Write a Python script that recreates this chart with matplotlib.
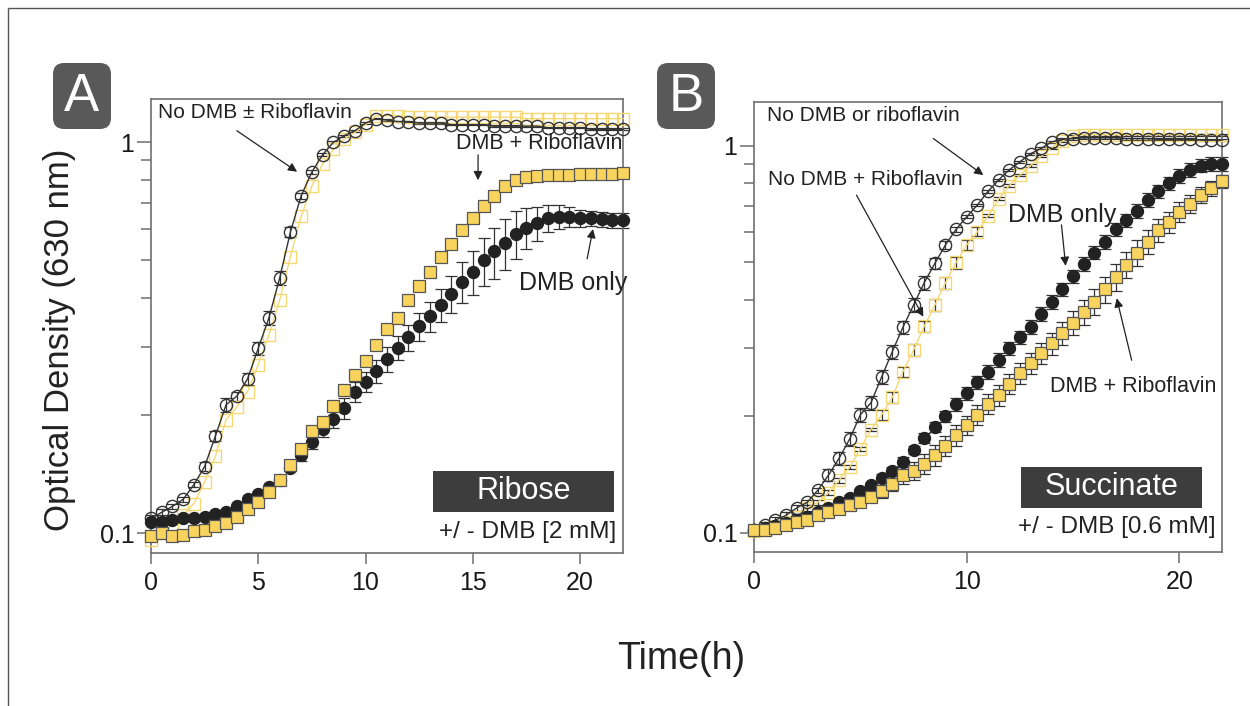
import numpy as np
import matplotlib
matplotlib.use("Agg")
import matplotlib.pyplot as plt
from matplotlib.patches import FancyBboxPatch, Rectangle
from matplotlib.transforms import IdentityTransform
from matplotlib.ticker import FixedLocator, FixedFormatter, NullFormatter

plt.rcParams['font.family'] = ['Liberation Sans', 'DejaVu Sans']

# sampling times (h), every 30 min
hours = np.arange(0, 22.5, 0.5)

# ---- panel A : ribose ----
a_no_dmb = [0.109, 0.113, 0.117, 0.122, 0.133, 0.148, 0.177, 0.213, 0.224, 0.248,
            0.297, 0.356, 0.45, 0.59, 0.73, 0.84, 0.93, 1.0, 1.04, 1.07,
            1.12, 1.15, 1.14, 1.13, 1.13, 1.12, 1.12, 1.12, 1.11, 1.11,
            1.11, 1.11, 1.10, 1.10, 1.10, 1.10, 1.10, 1.09, 1.09, 1.09,
            1.09, 1.08, 1.08, 1.08, 1.08]
a_no_dmb_err = [0.002, 0.002, 0.002, 0.002, 0.002, 0.004, 0.005, 0.009, 0.006, 0.009,
                0.012, 0.015, 0.018, 0.016, 0.012, 0.010, 0.008, 0.006, 0.005, 0.005,
                0.005, 0.005, 0.005, 0.005, 0.005, 0.005, 0.005, 0.005, 0.005, 0.005,
                0.005, 0.005, 0.005, 0.005, 0.005, 0.005, 0.005, 0.005, 0.005, 0.005,
                0.005, 0.005, 0.005, 0.005, 0.005]
a_no_dmb_rib = [0.096, 0.100, 0.105, 0.111, 0.119, 0.135, 0.157, 0.195, 0.21, 0.23,
                0.27, 0.322, 0.395, 0.51, 0.647, 0.773, 0.88, 0.96, 1.02, 1.06,
                1.11, 1.17, 1.17, 1.17, 1.16, 1.16, 1.16, 1.16, 1.16, 1.16,
                1.16, 1.16, 1.16, 1.16, 1.16, 1.15, 1.15, 1.15, 1.15, 1.15,
                1.15, 1.15, 1.15, 1.15, 1.15]
a_dmb_rib = [0.098, 0.100, 0.098, 0.099, 0.101, 0.102, 0.104, 0.106, 0.110, 0.115,
             0.120, 0.127, 0.137, 0.149, 0.164, 0.182, 0.192, 0.211, 0.233, 0.254,
             0.275, 0.303, 0.332, 0.355, 0.394, 0.428, 0.467, 0.51, 0.55, 0.597,
             0.64, 0.686, 0.73, 0.773, 0.80, 0.816, 0.82, 0.823, 0.825, 0.826,
             0.828, 0.83, 0.83, 0.832, 0.833]
a_dmb = [0.107, 0.107, 0.108, 0.109, 0.109, 0.110, 0.112, 0.113, 0.117, 0.122,
         0.126, 0.131, 0.137, 0.147, 0.158, 0.171, 0.185, 0.196, 0.209, 0.23,
         0.244, 0.26, 0.279, 0.298, 0.317, 0.338, 0.359, 0.384, 0.41, 0.44,
         0.467, 0.50, 0.526, 0.553, 0.584, 0.605, 0.622, 0.64, 0.645, 0.645,
         0.64, 0.64, 0.635, 0.632, 0.632]
a_dmb_err = [0.001, 0.001, 0.001, 0.001, 0.001, 0.001, 0.001, 0.001, 0.001, 0.001,
             0.001, 0.001, 0.002, 0.003, 0.005, 0.007, 0.009, 0.010, 0.013, 0.014,
             0.015, 0.018, 0.020, 0.021, 0.024, 0.027, 0.032, 0.038, 0.045, 0.053,
             0.061, 0.070, 0.079, 0.083, 0.082, 0.073, 0.062, 0.051, 0.045, 0.039,
             0.032, 0.029, 0.029, 0.028, 0.028]

# ---- panel B : succinate ----
b_no_dmb = [0.102, 0.105, 0.108, 0.111, 0.116, 0.120, 0.129, 0.141, 0.156, 0.175,
            0.202, 0.217, 0.253, 0.294, 0.34, 0.388, 0.443, 0.497, 0.555, 0.609,
            0.656, 0.704, 0.763, 0.817, 0.868, 0.91, 0.955, 0.986, 1.025, 1.04,
            1.045, 1.05, 1.05, 1.05, 1.05, 1.045, 1.045, 1.045, 1.04, 1.04,
            1.04, 1.04, 1.035, 1.035, 1.035]
b_no_dmb_err = [0.002, 0.002, 0.002, 0.002, 0.002, 0.002, 0.002, 0.005, 0.006, 0.007,
                0.008, 0.009, 0.010, 0.012, 0.014, 0.016, 0.018, 0.015, 0.012, 0.008,
                0.006, 0.006, 0.006, 0.006, 0.006, 0.006, 0.006, 0.006, 0.006, 0.006,
                0.006, 0.006, 0.006, 0.006, 0.006, 0.006, 0.006, 0.006, 0.006, 0.006,
                0.006, 0.006, 0.006, 0.006, 0.006]
b_no_dmb_rib = [0.101, 0.102, 0.104, 0.107, 0.110, 0.116, 0.120, 0.127, 0.137, 0.148,
                0.165, 0.185, 0.202, 0.224, 0.261, 0.297, 0.342, 0.388, 0.443, 0.50,
                0.555, 0.60, 0.66, 0.73, 0.79, 0.84, 0.89, 0.94, 0.99, 1.03,
                1.06, 1.07, 1.07, 1.07, 1.07, 1.07, 1.07, 1.07, 1.07, 1.07,
                1.07, 1.07, 1.07, 1.07, 1.07]
b_no_dmb_rib_err = [0.002, 0.002, 0.002, 0.002, 0.002, 0.002, 0.002, 0.002, 0.002, 0.002,
                    0.002, 0.002, 0.006, 0.007, 0.008, 0.010, 0.012, 0.014, 0.016, 0.018,
                    0.018, 0.016, 0.006, 0.006, 0.006, 0.006, 0.006, 0.006, 0.006, 0.006,
                    0.006, 0.006, 0.006, 0.006, 0.006, 0.006, 0.006, 0.006, 0.006, 0.006,
                    0.006, 0.006, 0.006, 0.006, 0.006]
b_dmb = [0.102, 0.103, 0.104, 0.106, 0.108, 0.110, 0.113, 0.116, 0.12, 0.123,
         0.128, 0.133, 0.139, 0.145, 0.153, 0.164, 0.176, 0.188, 0.2, 0.215,
         0.23, 0.245, 0.261, 0.28, 0.30, 0.32, 0.341, 0.368, 0.396, 0.426,
         0.46, 0.496, 0.53, 0.566, 0.609, 0.643, 0.68, 0.725, 0.763, 0.801,
         0.837, 0.868, 0.89, 0.9, 0.9]
b_dmb_err = [0.002, 0.002, 0.002, 0.002, 0.002, 0.002, 0.002, 0.002, 0.002, 0.002,
             0.002, 0.002, 0.003, 0.003, 0.004, 0.004, 0.005, 0.006, 0.007, 0.008,
             0.009, 0.010, 0.011, 0.012, 0.012, 0.013, 0.014, 0.015, 0.016, 0.017,
             0.018, 0.020, 0.021, 0.023, 0.024, 0.026, 0.027, 0.029, 0.031, 0.032,
             0.033, 0.035, 0.036, 0.036, 0.036]
b_dmb_rib = [0.102, 0.102, 0.103, 0.105, 0.107, 0.108, 0.111, 0.113, 0.115, 0.118,
             0.120, 0.124, 0.128, 0.134, 0.141, 0.145, 0.151, 0.159, 0.168, 0.179,
             0.19, 0.202, 0.216, 0.227, 0.243, 0.259, 0.275, 0.291, 0.309, 0.328,
             0.349, 0.373, 0.396, 0.426, 0.458, 0.493, 0.53, 0.566, 0.607, 0.636,
             0.675, 0.71, 0.748, 0.778, 0.81]
b_dmb_rib_err = [0.002, 0.002, 0.002, 0.002, 0.002, 0.002, 0.002, 0.002, 0.002, 0.002,
                 0.003, 0.004, 0.005, 0.006, 0.007, 0.008, 0.009, 0.010, 0.010, 0.011,
                 0.011, 0.012, 0.013, 0.014, 0.015, 0.016, 0.017, 0.018, 0.020, 0.022,
                 0.025, 0.028, 0.030, 0.033, 0.036, 0.038, 0.040, 0.041, 0.042, 0.040,
                 0.040, 0.038, 0.036, 0.035, 0.033]

YELLOW = '#F8D35E'
PALE_YELLOW = '#F6D873'
DARK = '#222222'
GRID_GREY = '#6e6e6e'
W, H = 1250, 706


def errbars(ax, y, err):
    ax.errorbar(hours, y, yerr=err, fmt='none', ecolor='#333333', elinewidth=0.9,
                capsize=4, capthick=0.9, zorder=2, clip_on=False)


def open_series(ax, y, edge, line, marker):
    ax.plot(hours, y, color=line, lw=1.0, zorder=3, clip_on=False)
    ax.plot(hours, y, ls='none', marker=marker, ms=8.8, mfc='none', mec=edge,
            mew=1.0, zorder=3, clip_on=False)


def style_axes(ax, xticks, ylim):
    ax.set_xlim(0, 22)
    ax.set_yscale('log')
    ax.set_ylim(*ylim)
    ax.yaxis.set_major_locator(FixedLocator([0.1, 1]))
    ax.yaxis.set_major_formatter(FixedFormatter(['0.1', '1']))
    ax.yaxis.set_minor_locator(FixedLocator([0.2, 0.3, 0.4, 0.5, 0.6, 0.7, 0.8, 0.9]))
    ax.yaxis.set_minor_formatter(NullFormatter())
    ax.set_xticks(xticks)
    ax.set_xticklabels([str(v) for v in xticks])
    for s in ax.spines.values():
        s.set_color(GRID_GREY)
        s.set_linewidth(1.2)
    ax.tick_params(axis='both', which='major', colors=GRID_GREY, labelcolor='#1a1a1a',
                   labelsize=18, width=1.1)
    ax.tick_params(axis='y', which='major', length=10, pad=2)
    ax.tick_params(axis='y', which='minor', length=7, width=1.1, colors=GRID_GREY)
    ax.tick_params(axis='x', which='major', length=8, pad=5)


def arrow(ax, xy, xytext):
    ax.annotate('', xy=xy, xycoords='data', xytext=xytext, textcoords='axes fraction',
                arrowprops=dict(arrowstyle='-|>', lw=0.9, color='#222222',
                                mutation_scale=13, shrinkA=0, shrinkB=0))


def tag_box(ax, x0, x1, y0, y1, label):
    ax.add_patch(Rectangle((x0, y0), x1 - x0, y1 - y0, transform=ax.transAxes,
                           facecolor='#3d3d3d', edgecolor='none', zorder=5, clip_on=False))
    ax.text((x0 + x1) / 2, (y0 + y1) / 2, label, transform=ax.transAxes, ha='center',
            va='center', color='white', fontsize=22, zorder=6)


fig = plt.figure(figsize=(12.5, 7.06), dpi=100)

axA = fig.add_axes([151 / W, 153 / H, 472 / W, 454 / H])
axB = fig.add_axes([754 / W, 154 / H, 468 / W, 450 / H])

# panel A
errbars(axA, a_no_dmb, a_no_dmb_err)
errbars(axA, a_dmb, a_dmb_err)
open_series(axA, a_no_dmb_rib, PALE_YELLOW, PALE_YELLOW, 's')
open_series(axA, a_no_dmb, '#333333', '#333333', 'o')
axA.plot(hours, a_dmb, ls='none', marker='o', ms=8.6, mfc=DARK, mec=DARK, zorder=4, clip_on=False)
axA.plot(hours, a_dmb_rib, ls='none', marker='s', ms=8.6, mfc=YELLOW, mec='#555555',
         mew=0.9, zorder=4, clip_on=False)
style_axes(axA, [0, 5, 10, 15, 20], (0.0889, 1.291))

axA.text(0.015, 0.971, 'No DMB \u00b1 Riboflavin', transform=axA.transAxes, ha='left',
         va='center', fontsize=15, color='#222222')
arrow(axA, (6.81, 0.841), (0.182, 0.93))
axA.text(0.998, 0.903, 'DMB + Riboflavin', transform=axA.transAxes, ha='right',
         va='center', fontsize=15.5, color='#222222')
arrow(axA, (15.24, 0.80), (0.693, 0.877))
axA.text(1.01, 0.595, 'DMB only', transform=axA.transAxes, ha='right',
         va='center', fontsize=18, color='#222222')
arrow(axA, (20.6, 0.60), (0.924, 0.648))
tag_box(axA, 0.597, 0.981, 0.090, 0.181, 'Ribose')
axA.text(0.985, 0.046, '+/ - DMB [2 mM]', transform=axA.transAxes, ha='right',
         va='center', fontsize=17.5, color='#222222')

# panel B
errbars(axB, b_no_dmb_rib, b_no_dmb_rib_err)
errbars(axB, b_no_dmb, b_no_dmb_err)
errbars(axB, b_dmb, b_dmb_err)
errbars(axB, b_dmb_rib, b_dmb_rib_err)
open_series(axB, b_no_dmb_rib, PALE_YELLOW, PALE_YELLOW, 's')
open_series(axB, b_no_dmb, '#333333', '#333333', 'o')
axB.plot(hours, b_dmb, ls='none', marker='o', ms=8.6, mfc=DARK, mec=DARK, zorder=4, clip_on=False)
axB.plot(hours, b_dmb_rib, ls='none', marker='s', ms=8.6, mfc=YELLOW, mec='#555555',
         mew=0.9, zorder=4, clip_on=False)
style_axes(axB, [0, 10, 20], (0.0893, 1.299))

axB.text(0.028, 0.969, 'No DMB or riboflavin', transform=axB.transAxes, ha='left',
         va='center', fontsize=15, color='#222222')
arrow(axB, (10.78, 0.841), (0.383, 0.919))
axB.text(0.029, 0.827, 'No DMB + Riboflavin', transform=axB.transAxes, ha='left',
         va='center', fontsize=15, color='#222222')
arrow(axB, (7.96, 0.362), (0.219, 0.793))
axB.text(0.543, 0.749, 'DMB only', transform=axB.transAxes, ha='left',
         va='center', fontsize=18, color='#222222')
arrow(axB, (14.65, 0.49), (0.657, 0.727))
axB.text(0.987, 0.367, 'DMB + Riboflavin', transform=axB.transAxes, ha='right',
         va='center', fontsize=15.5, color='#222222')
arrow(axB, (17.05, 0.404), (0.807, 0.426))
tag_box(axB, 0.571, 0.957, 0.098, 0.190, 'Succinate')
axB.text(0.987, 0.056, '+/ - DMB [0.6 mM]', transform=axB.transAxes, ha='right',
         va='center', fontsize=17.5, color='#222222')

# panel letters
for x0, cx, letter in [(53, 81.5, 'A'), (657, 686, 'B')]:
    fig.add_artist(FancyBboxPatch((x0, H - 129), 58, 66,
                                  boxstyle='round,pad=0,rounding_size=11',
                                  transform=IdentityTransform(),
                                  facecolor='#595959', edgecolor='none'))
    fig.text(cx / W, 1 - 97 / H, letter, ha='center', va='center', color='white',
             fontsize=38)

# shared axis titles
fig.text(60 / W, 1 - 340 / H, 'Optical Density (630 nm)', rotation=90, ha='center',
         va='center', fontsize=25, color='#222222')
fig.text(681 / W, 1 - 659 / H, 'Time(h)', ha='center', va='center', fontsize=27,
         color='#222222')

# thin frame round the figure
fig.add_artist(Rectangle((8, -10), 1400, H - 8 + 10, transform=IdentityTransform(),
                         fill=False, edgecolor='#555555', lw=1))

fig.savefig('out.png', dpi=100)
